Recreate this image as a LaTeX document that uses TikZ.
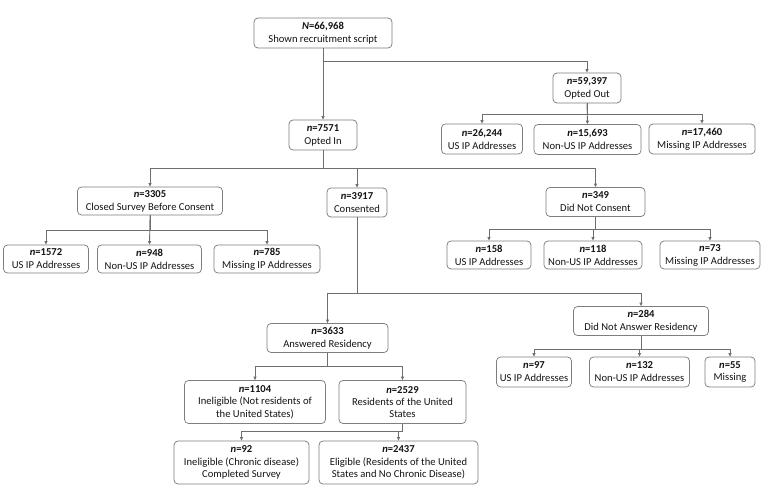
\documentclass[tikz,border=0pt]{standalone}
\usepackage{fontspec}
\setmainfont{Carlito}
\usetikzlibrary{arrows.meta}
\definecolor{linec}{HTML}{6E6E6E}
\definecolor{boxc}{HTML}{7E7E7E}
\definecolor{txt}{HTML}{141414}
\newcommand{\nn}[2]{\textbf{\textit{#1}=#2}}
\begin{document}
\begin{tikzpicture}[x=1pt,y=-1pt,
  box/.style={draw=boxc, rounded corners=4pt, line width=0.75pt, align=center, inner sep=0pt,
    font=\fontsize{10.6}{12.9}\selectfont, text=txt},
  arr/.style={draw=linec, line width=0.85pt, -{Triangle[length=3.5pt,width=3pt]}},
]
\fill[white] (0,0) rectangle (770,498);
\useasboundingbox (0,0) rectangle (770,498);

% level 0/1
\node[box, minimum width=138pt, minimum height=30pt] (top) at (323,33) {\nn{N}{66,968}\\Shown recruitment script};
\node[box, minimum width=68pt, minimum height=30pt] (optin) at (323,135) {\nn{n}{7571}\\Opted In};
\node[box, minimum width=68pt, minimum height=30pt] (optout) at (587,88) {\nn{n}{59,397}\\Opted Out};

\node[box, minimum width=81pt, minimum height=30pt] (oous) at (482,139) {\nn{n}{26,244}\\US IP Addresses};
\node[box, minimum width=107pt, minimum height=30pt] (oonon) at (587.5,139.5) {\nn{n}{15,693}\\Non-US IP Addresses};
\node[box, minimum width=106pt, minimum height=30pt] (oomiss) at (702,139) {\nn{n}{17,460}\\Missing IP Addresses};

% opted in children
\node[box, minimum width=145pt, minimum height=28pt] (closed) at (150,201) {\nn{n}{3305}\\Closed Survey Before Consent};
\node[box, minimum width=60pt, minimum height=29pt] (cons) at (357,202.5) {\nn{n}{3917}\\Consented};
\node[box, minimum width=99pt, minimum height=29pt] (dnc) at (595.5,202) {\nn{n}{349}\\Did Not Consent};

\node[box, minimum width=85pt, minimum height=28pt] (cus) at (46,259) {\nn{n}{1572}\\US IP Addresses};
\node[box, minimum width=104pt, minimum height=28pt] (cnon) at (149.5,259) {\nn{n}{948}\\Non-US IP Addresses};
\node[box, minimum width=106pt, minimum height=28pt] (cmiss) at (267,259) {\nn{n}{785}\\Missing IP Addresses};

\node[box, minimum width=84pt, minimum height=28pt] (dus) at (489,255) {\nn{n}{158}\\US IP Addresses};
\node[box, minimum width=98pt, minimum height=28pt] (dnon) at (593,255) {\nn{n}{118}\\Non-US IP Addresses};
\node[box, minimum width=100pt, minimum height=28pt] (dmiss) at (710,255) {\nn{n}{73}\\Missing IP Addresses};

% consented children
\node[box, minimum width=121pt, minimum height=29pt] (ans) at (327.5,338) {\nn{n}{3633}\\Answered Residency};
\node[box, minimum width=135pt, minimum height=29pt] (dna) at (641,321) {\nn{n}{284}\\Did Not Answer Residency};

\node[box, minimum width=141pt, minimum height=43pt, font=\fontsize{10.6}{12.4}\selectfont] (inel) at (255,402) {\nn{n}{1104}\\Ineligible (Not residents of\\the United States)};
\node[box, minimum width=127pt, minimum height=43pt, font=\fontsize{10.6}{12.4}\selectfont] (res) at (402.5,402) {\nn{n}{2529}\\Residents of the United\\States};

\node[box, minimum width=135pt, minimum height=43pt, font=\fontsize{10.6}{12.4}\selectfont] (chron) at (241.5,462.5) {\nn{n}{92}\\Ineligible (Chronic disease)\\Completed Survey};
\node[box, minimum width=159pt, minimum height=43pt, font=\fontsize{10.6}{12.4}\selectfont] (elig) at (398.5,462.5) {\nn{n}{2437}\\Eligible (Residents of the United\\States and No Chronic Disease)};

\node[box, minimum width=75pt, minimum height=30pt] (aus) at (534,372) {\nn{n}{97}\\US IP Addresses};
\node[box, minimum width=100pt, minimum height=30pt] (anon) at (639.5,372) {\nn{n}{132}\\Non-US IP Addresses};
\node[box, minimum width=50pt, minimum height=30pt] (amiss) at (730,372) {\nn{n}{55}\\Missing};

% bus levels
\coordinate (b1) at (0,61);
\coordinate (b2) at (0,114);
\coordinate (b3) at (0,168.5);
\coordinate (b4) at (0,230.5);
\coordinate (b5) at (0,229);
\coordinate (b6) at (0,293.3);
\coordinate (b7) at (0,366.7);
\coordinate (b8) at (0,431.7);
\coordinate (b9) at (0,349.3);

% connectors
\draw[arr] (top.south) -- (optin.north);
\draw[arr] (top.south |- b1) -| (optout.north);

\draw[arr] (optout.south) |- (oous.north |- b2) -- (oous.north);
\draw[arr] (optout.south) -- (oonon.north);
\draw[arr] (optout.south |- b2) -| (oomiss.north);

\draw[arr] (optin.south) |- (closed.north |- b3) -- (closed.north);
\draw[arr] (optin.south |- b3) -| (cons.north);
\draw[arr] (optin.south |- b3) -| (dnc.north);

\draw[arr] (closed.south) |- (cus.north |- b4) -- (cus.north);
\draw[arr] (closed.south) -- (cnon.north);
\draw[arr] (closed.south |- b4) -| (cmiss.north);

\draw[arr] (dnc.south) |- (dus.north |- b5) -- (dus.north);
\draw[arr] (dnc.south) |- (dnon.north |- b5) -- (dnon.north);
\draw[arr] (dnc.south |- b5) -| (dmiss.north);

\draw[arr] (cons.south) |- (ans.north |- b6) -- (ans.north);
\draw[arr] (cons.south |- b6) -| (dna.north);

\draw[arr] (ans.south) |- (inel.north |- b7) -- (inel.north);
\draw[arr] (ans.south |- b7) -| (res.north);

\draw[arr] (res.south) |- (chron.north |- b8) -- (chron.north);
\draw[arr] (res.south) |- (elig.north |- b8) -- (elig.north);

\draw[arr] (dna.south) |- (aus.north |- b9) -- (aus.north);
\draw[arr] (dna.south) |- (anon.north |- b9) -- (anon.north);
\draw[arr] (dna.south |- b9) -| (amiss.north);
\end{tikzpicture}
\end{document}
